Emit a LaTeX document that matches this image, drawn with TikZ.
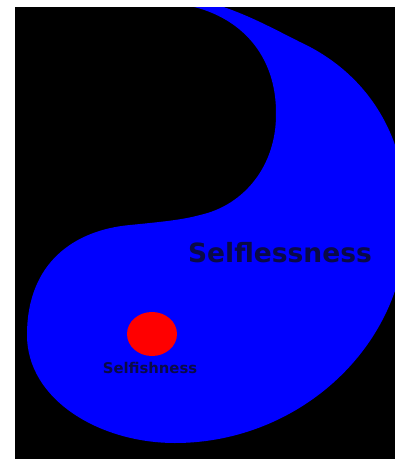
\documentclass[tikz,border=0pt]{standalone}
\usepackage{fontspec}
\setmainfont{DejaVu Sans}
\definecolor{yinblue}{RGB}{0,0,255}
\definecolor{dotred}{RGB}{255,0,0}
\definecolor{txtdark}{RGB}{10,10,70}
\tikzset{
  lbl/.style={text=txtdark, inner sep=0pt},
}
\begin{document}
\begin{tikzpicture}[x=1pt,y=-1pt]
\useasboundingbox (0,0) rectangle (395,459);
\fill[white] (0,0) rectangle (395,459);
\fill[black] (15,7) rectangle (395,459);
\begin{scope}
\clip (15,7) rectangle (395,459);
\fill[yinblue]
  (200,0) .. controls (240,10) and (270,27) .. (300,42)
  .. controls (365,72) and (410,135) .. (406,225)
  .. controls (406,345) and (300,443) .. (175,443)
  .. controls (100,443) and (27,400) .. (27,335)
  .. controls (27,262) and (75,230) .. (130,225)
  .. controls (160,222) and (182,220) .. (200,215)
  .. controls (245,205) and (276,165) .. (276,115)
  .. controls (277,55) and (240,15) .. (185,5)
  -- (180,-5) -- cycle;
\end{scope}
\fill[dotred] (152,334) ellipse [x radius=25, y radius=22];
\node[lbl, font=\bfseries\fontsize{26.5}{26.5}\selectfont] (big) at (280,253) {Selflessness};
\node[lbl, font=\bfseries\fontsize{14.8}{14.8}\selectfont] (small) at (150,368) {Selfishness};
\end{tikzpicture}
\end{document}
